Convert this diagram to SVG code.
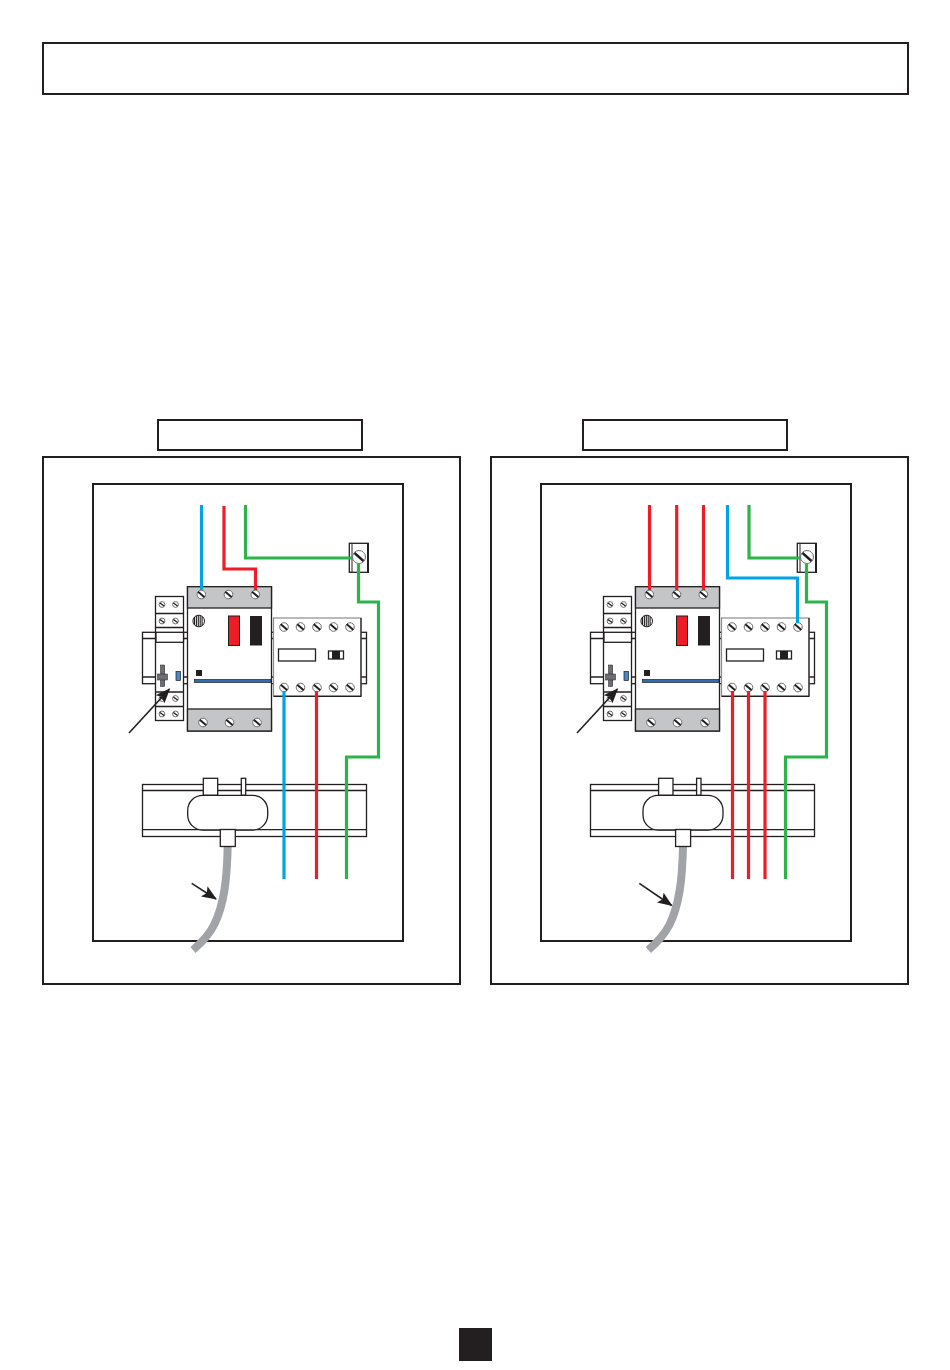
<svg xmlns="http://www.w3.org/2000/svg" xmlns:xlink="http://www.w3.org/1999/xlink" width="950" height="1370" viewBox="0 0 950 1370">
<style>
.f{fill:#fff;stroke:#231f20;stroke-width:2}
.l{fill:#fff;stroke:#231f20;stroke-width:1.3}
.g{fill:#c4c5c7;stroke:#231f20;stroke-width:1.3}
.w{fill:none;stroke-width:3.2;stroke-linejoin:miter}
.b{stroke:#00a4e4}.r{stroke:#ee1c25}.n{stroke:#2db34a}
.sc{fill:#fff;stroke:#6d6e71;stroke-width:1}
.sl{stroke:#231f20;stroke-width:2}
.a{stroke:#231f20;stroke-width:1.6;fill:none}
</style>
<defs>
<marker id="ah" markerUnits="userSpaceOnUse" markerWidth="16" markerHeight="12" refX="14" refY="6" orient="auto"><path d="M0 0L15 6L0 12L3 6Z" fill="#231f20"/></marker>
<g id="s"><circle class="sc" r="4.3"/><line class="sl" x1="-3.2" y1="-2.7" x2="3.2" y2="2.7"/></g>
<g id="t"><circle class="sc" r="2.9"/><line class="sl" style="stroke-width:1.3" x1="-2.1" y1="-1.6" x2="2.1" y2="1.6"/></g>
<g id="device">
<rect class="l" x="142.5" y="632.3" width="224" height="51.4"/>
<path class="l" d="M142.5 638.5H366.5M142.5 677H366.5" fill="none"/>
<rect class="l" x="155.5" y="596.5" width="28" height="124"/>
<path class="l" d="M155.5 613.5H183.5M155.5 627.5H183.5M155.5 692H183.5M155.5 706.5H183.5" fill="none"/>
<rect class="l" x="156" y="632.3" width="27.5" height="10"/>
<use xlink:href="#t" x="162" y="604.5"/><use xlink:href="#t" x="175.5" y="604.5"/>
<use xlink:href="#t" x="162" y="621"/><use xlink:href="#t" x="175.5" y="621"/>
<use xlink:href="#t" x="162" y="698.5"/><use xlink:href="#t" x="175.5" y="698.5"/>
<use xlink:href="#t" x="162" y="714"/><use xlink:href="#t" x="175.5" y="714"/>
<rect x="160.5" y="665" width="4.2" height="21.5" fill="#6d6e71" stroke="#231f20" stroke-width=".5"/>
<rect x="157.5" y="674" width="10" height="6" fill="#6d6e71" stroke="#231f20" stroke-width=".5"/>
<rect x="176" y="671.5" width="4.5" height="9" fill="#4a86c8" stroke="#231f20" stroke-width=".7"/>
<rect class="l" x="187.5" y="586.7" width="84" height="144.3"/>
<rect class="g" x="187.5" y="586.7" width="84" height="21.3"/>
<rect class="g" x="187.5" y="709" width="84" height="22"/>
<use xlink:href="#s" x="201.3" y="594.5"/><use xlink:href="#s" x="228.5" y="594.5"/><use xlink:href="#s" x="255.3" y="594.5"/>
<use xlink:href="#s" x="203" y="722.5"/><use xlink:href="#s" x="229.5" y="722.5"/><use xlink:href="#s" x="257" y="722.5"/>
<circle cx="198.7" cy="621" r="5.8" fill="#fff" stroke="#231f20" stroke-width="1"/>
<path d="M194.5 617V625M196.4 615.8V626.2M198.3 615.2V626.8M200.2 615.5V626.5M202.1 616.5V625.5" stroke="#231f20" stroke-width="1.1"/>
<rect x="228.5" y="616" width="11" height="29.5" fill="#ee1c25" stroke="#231f20" stroke-width="1"/>
<rect x="250" y="616" width="12" height="29.5" fill="#231f20"/>
<rect x="196" y="670" width="6" height="6" fill="#231f20"/>
<rect x="194.5" y="679.5" width="76.5" height="3" fill="#2f6db5" stroke="#231f20" stroke-width=".7"/>
<rect x="273.5" y="618" width="87.5" height="78" fill="#fff" stroke="#8a8c8e" stroke-width="1.2"/>
<path d="M273.5 696.3H361V618" fill="none" stroke="#231f20" stroke-width="1.2"/>
<use xlink:href="#s" x="284" y="627"/><use xlink:href="#s" x="300.5" y="627"/><use xlink:href="#s" x="317" y="627"/><use xlink:href="#s" x="333.5" y="627"/><use xlink:href="#s" x="350" y="627"/>
<use xlink:href="#s" x="284" y="687.5"/><use xlink:href="#s" x="300.5" y="687.5"/><use xlink:href="#s" x="317" y="687.5"/><use xlink:href="#s" x="333.5" y="687.5"/><use xlink:href="#s" x="350" y="687.5"/>
<rect class="l" x="278.5" y="649" width="37" height="12"/>
<rect class="l" x="328.5" y="651" width="15" height="8"/>
<rect x="332" y="651" width="8" height="8" fill="#231f20"/>
</g>
<g id="terminal">
<rect class="l" x="349.3" y="543.3" width="19" height="29"/>
<path d="M352 543.3V572.3" stroke="#231f20" stroke-width="1"/>
<path d="M368 543V572.8" stroke="#231f20" stroke-width="2"/>
<circle class="sc" cx="359" cy="557" r="6.5"/>
<line class="sl" style="stroke-width:2.4" x1="354.5" y1="553" x2="363.5" y2="561"/>
</g>
<g id="rail">
<rect class="l" x="142.5" y="784.5" width="224" height="52"/>
<path class="l" d="M142.5 790.5H366.5M142.5 829.7H366.5" fill="none"/>
</g>
<g id="clamp">
<rect class="l" x="203.3" y="778.3" width="14.4" height="17"/>
<rect class="l" x="241.3" y="778.3" width="4.4" height="17"/>
<rect class="l" x="187.7" y="795.3" width="80" height="34.7" rx="15" ry="15"/>
<path d="M227.7 846C227 880 224 905 214 925C208 937 200 944 193 950" fill="none" stroke="#a1a3a6" stroke-width="8"/>
<rect class="l" x="220.3" y="829.5" width="15" height="17"/>
</g>
</defs>

<rect id="title-box" class="f" x="43" y="43" width="865" height="51"/>
<rect id="label-left" class="f" x="158" y="420" width="204" height="30"/>
<rect id="label-right" class="f" x="583" y="420" width="204" height="30"/>
<rect id="frame-left" class="f" x="43" y="457" width="417" height="527"/>
<rect id="frame-right" class="f" x="491" y="457" width="417" height="527"/>
<rect id="panel-left" class="f" x="93" y="484" width="310" height="457"/>
<rect id="panel-right" class="f" x="541" y="484" width="310" height="457"/>

<g id="node-rail-left"><use xlink:href="#rail"/></g>
<g id="node-rail-right"><use xlink:href="#rail" x="448"/></g>
<g id="node-device-left"><use xlink:href="#device"/></g>
<g id="node-device-right"><use xlink:href="#device" x="448"/></g>
<g id="node-terminal-left"><use xlink:href="#terminal"/></g>
<g id="node-terminal-right"><use xlink:href="#terminal" x="448"/></g>
<g id="node-clamp-left"><use xlink:href="#clamp"/></g>
<g id="node-clamp-right"><use xlink:href="#clamp" x="455.3"/></g>

<g id="connectors">
<path class="w b" d="M201.5 505V590"/>
<path class="w r" d="M224 506V569H255.5V590"/>
<path class="w n" d="M245.5 505V558H352"/>
<path class="w n" d="M358.5 564V602H378.5V757H346.5V879"/>
<path class="w b" d="M284 691V879"/>
<path class="w r" d="M316.5 691V879"/>
<path class="w r" d="M649.5 505V590"/>
<path class="w r" d="M676.7 505V590"/>
<path class="w r" d="M703.5 505V590"/>
<path class="w b" d="M727.5 505V578H797.5V623"/>
<path class="w n" d="M749 505V558H800"/>
<path class="w n" d="M806.5 564V602H826.5V757H785.5V879"/>
<path class="w r" d="M732.5 691V879"/>
<path class="w r" d="M748.5 691V879"/>
<path class="w r" d="M765 691V879"/>
<path class="a" d="M129 733L169.5 689" marker-end="url(#ah)"/>
<path class="a" d="M577 733L617.5 689" marker-end="url(#ah)"/>
<path class="a" d="M191.7 883.3L216 899" marker-end="url(#ah)"/>
<path class="a" d="M639.3 883.3L671.7 905.5" marker-end="url(#ah)"/>
</g>
<rect id="page-marker" x="459" y="1328" width="33" height="33" fill="#231f20"/>
</svg>
